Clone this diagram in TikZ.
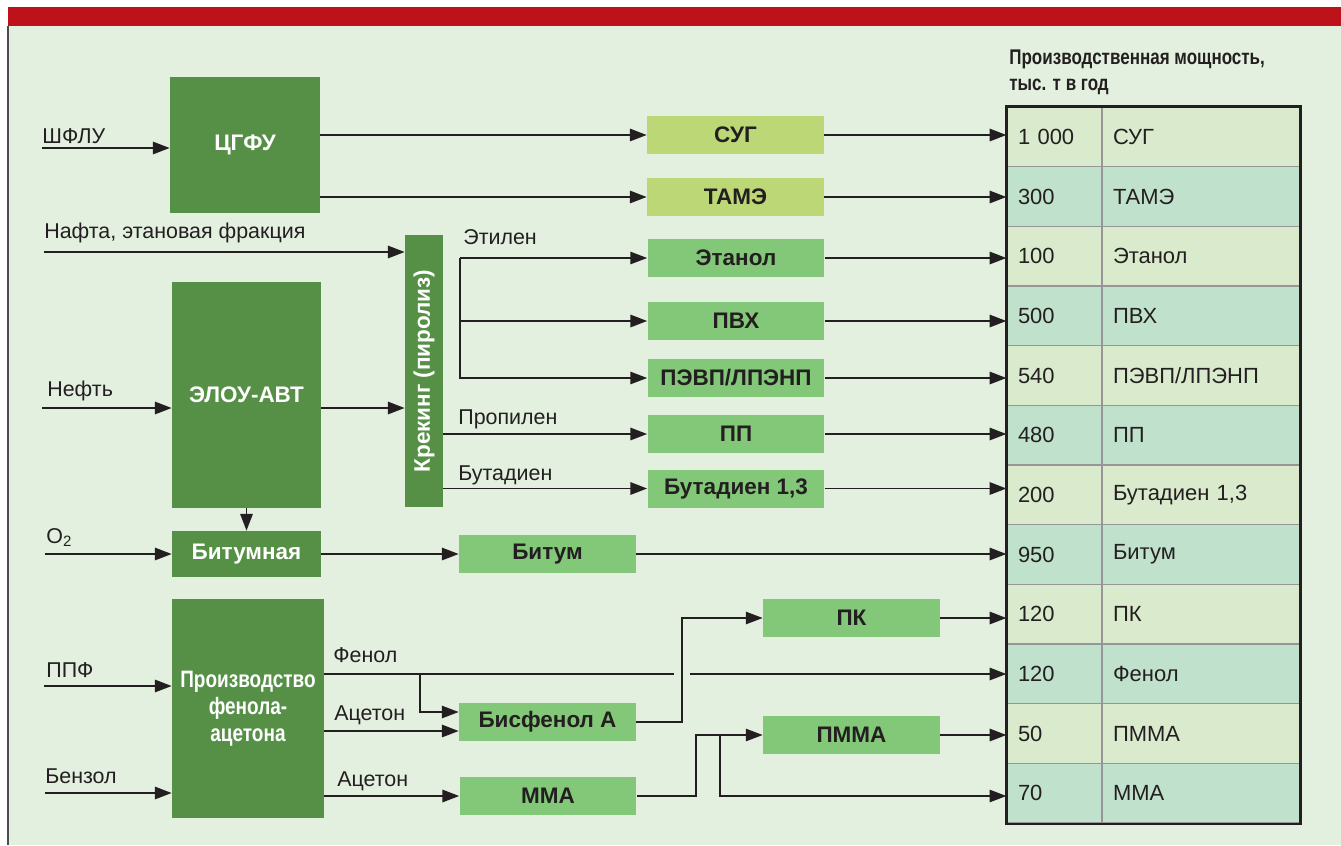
\documentclass[tikz,border=0pt]{standalone}
\usepackage{fontspec}
\setmainfont{Liberation Sans}
\newfontfamily\condbf[FakeStretch=0.8]{Liberation Sans Bold}
\usetikzlibrary{arrows.meta,positioning,calc}
\definecolor{ink}{RGB}{35,31,32}
\definecolor{bgreen}{RGB}{227,239,223}
\definecolor{topred}{RGB}{190,18,26}
\definecolor{darkgreen}{RGB}{86,144,70}
\definecolor{midgreen}{RGB}{131,200,120}
\definecolor{limegreen}{RGB}{188,216,118}
\definecolor{rowlight}{RGB}{218,234,204}
\definecolor{rowmint}{RGB}{192,226,204}
\definecolor{gridgray}{RGB}{150,150,150}

\tikzset{
  plant/.style={fill=darkgreen,text=white,inner sep=0pt,align=center,
    font=\bfseries\fontsize{12.8}{14}\selectfont},
  prod/.style={fill=midgreen,text=ink,inner sep=0pt,
    minimum width=3.54cm,minimum height=0.76cm,
    font=\bfseries\fontsize{12.8}{14}\selectfont},
  gas/.style={prod,fill=limegreen},
  lbl/.style={text=ink,inner sep=0pt,anchor=base west,
    font=\fontsize{12.2}{14}\selectfont},
  arr/.style={-{Triangle[length=9.5pt,width=7pt]},line width=1.1pt,draw=ink},
  tharr/.style={arr,line width=0.8pt},
  cell/.style={draw=gridgray,line width=0.7pt,inner xsep=0.22cm,inner ysep=0pt,
    minimum height=1.193cm,text=ink,align=left,
    font=\fontsize{12.5}{14}\selectfont},
  valcell/.style={cell,text width=1.46cm},
  namecell/.style={cell,text width=3.52cm}
}

\begin{document}
\begin{tikzpicture}[x=0.02cm,y=-0.02cm]
  \useasboundingbox (0,0) rectangle (1341,845);
  \fill[white] (0,0) rectangle (1341,845);
  \fill[bgreen] (8,26) rectangle (1341,845);
  \fill[topred] (8,7) rectangle (1341,26);
  \draw[line width=0.9pt,black!70] (8,26) -- (8,845);

  % process units
  \node[plant,minimum width=3cm,minimum height=2.72cm] (cgfu) at (245,145) {ЦГФУ};
  \node[plant,minimum width=2.98cm,minimum height=4.52cm] (elou) at (246.5,395) {ЭЛОУ-АВТ};
  \node[plant,minimum width=2.98cm,minimum height=0.92cm] (bitumnaya) at (246.5,554) {Битумная};
  \node[plant,minimum width=3.04cm,minimum height=4.38cm,
        font=\condbf\fontsize{13.5}{15.3}\selectfont] (fenacet) at (248,708.5)
        {Производство\\фенола-\\ацетона};
  \node[plant,minimum width=0.76cm,minimum height=5.44cm] (kreking) at (424,371)
        {\rotatebox{90}{Крекинг (пиролиз)}};

  % products
  \node[gas] (syg) at (735.5,135) {СУГ};
  \node[gas] (tame) at (735.5,197) {ТАМЭ};
  \node[prod] (etanol) at (736,258) {Этанол};
  \node[prod] (pvh) at (736,321) {ПВХ};
  \node[prod] (pevp) at (736,378) {ПЭВП/ЛПЭНП};
  \node[prod] (pp) at (736,434) {ПП};
  \node[prod] (butadien) at (736,488.5) {Бутадиен 1,3};
  \node[prod] (bitum) at (547.5,554) {Битум};
  \node[prod] (bisfenol) at (547.5,722) {Бисфенол А};
  \node[prod] (mma) at (548,796) {ММА};
  \node[prod] (pk) at (851.5,618) {ПК};
  \node[prod] (pmma) at (851.5,735) {ПММА};

  % capacity table
  \node[text=ink,inner sep=0pt,anchor=north west,align=left,
        font=\condbf\fontsize{12.1}{14.7}\selectfont] (cap) at (1009,50)
        {Производственная мощность,\\тыс. т в год};
  \foreach \val/\name [count=\i] in {1 000/СУГ,300/ТАМЭ,100/Этанол,500/ПВХ,
      540/{ПЭВП/ЛПЭНП},480/ПП,200/{Бутадиен 1,3},950/Битум,120/ПК,120/Фенол,
      50/ПММА,70/ММА}{
    \ifodd\i \def\rowc{rowlight}\else\def\rowc{rowmint}\fi
    \node[valcell,fill=\rowc] (v\i) at (1054.5,{107+(\i-0.5)*59.67}) {\val};
    \node[namecell,fill=\rowc] (n\i) at (1201,{107+(\i-0.5)*59.67}) {\name};
  }
  \draw[line width=1.3pt,ink] (v1.north west) rectangle (n12.south east);

  % inputs and stream labels
  \node[lbl] (shflu) at (42,143) {ШФЛУ};
  \node[lbl] (nafta) at (44,238) {Нафта, этановая фракция};
  \node[lbl] (neft) at (47,396) {Нефть};
  \node[lbl] (o2) at (46,543) {O\textsubscript{2}};
  \node[lbl] (ppf) at (46,677) {ППФ};
  \node[lbl] (benzol) at (45,783) {Бензол};
  \node[lbl] (etilen) at (463,244) {Этилен};
  \node[lbl] (propilen) at (458,424) {Пропилен};
  \node[lbl] (butadienl) at (458,480) {Бутадиен};
  \node[lbl] (fenol) at (333,662) {Фенол};
  \node[lbl] (aceton1) at (334,720) {Ацетон};
  \node[lbl] (aceton2) at (337,786) {Ацетон};

  \coordinate (shfluin) at (42,148);
  \coordinate (naftain) at (44,252);
  \coordinate (neftin) at (42,408);
  \coordinate (o2in) at (45,554);
  \coordinate (ppfin) at (44,686);
  \coordinate (benzin) at (45,793);
  \coordinate (ethfork) at (460,258);
  \coordinate (fjump) at (682,674);
  \coordinate (fenfork) at (420,674);
  \coordinate (bisin) at ([yshift=0.2cm]bisfenol.west);
  \coordinate (acin) at ([yshift=-0.18cm]bisfenol.west);
  \coordinate (mjoin) at (696,735);
  \coordinate (mfork) at (720,735);
  \coordinate (mmaend) at (mma.east -| v12.west);

  % upper flows
  \draw[arr] (shfluin) -- (shfluin -| cgfu.west);
  \draw[arr] (cgfu.east |- syg.west) -- (syg.west);
  \draw[arr] (cgfu.east |- tame.west) -- (tame.west);
  \draw[arr] (naftain) -- (naftain -| kreking.west);
  \draw[arr] (neftin) -- (neftin -| elou.west);
  \draw[arr] (elou.east |- neftin) -- (neftin -| kreking.west);
  \draw[arr] (elou.south) -- (bitumnaya.north);
  \draw[arr] (o2in) -- (o2in -| bitumnaya.west);
  \draw[arr] (bitumnaya.east) -- (bitum.west);
  \draw[tharr] (ethfork) -- (etanol.west);
  \draw[tharr] (ethfork) |- (pevp.west);
  \draw[arr] (ethfork |- pvh.west) -- (pvh.west);
  \draw[arr] (kreking.east |- pp.west) -- (pp.west);
  \draw[arr] (kreking.east |- butadien.west) -- (butadien.west);

  % into the table
  \foreach \src/\row in {syg/1,tame/2,etanol/3,pvh/4,pevp/5,pp/6,butadien/7,
      bitum/8,pk/9,pmma/11}
    \draw[arr] (\src.east) -- (\src.east -| v\row.west);

  % phenol-acetone branch
  \draw[arr] (ppfin) -- (ppfin -| fenacet.west);
  \draw[arr] (benzin) -- (benzin -| fenacet.west);
  \draw[line width=1.1pt,ink] (fenacet.east |- fjump) -- ([xshift=-0.16cm]fjump);
  \draw[arr] ([xshift=0.16cm]fjump) -- (fjump -| v10.west);
  \draw[tharr] (fenfork) |- (bisin);
  \draw[arr] (fenacet.east |- acin) -- (acin);
  \draw[arr] (fenacet.east |- mma.west) -- (mma.west);
  \draw[tharr] (bisfenol.east) -| (fjump) |- (pk.west);
  \draw[tharr] (mma.east) -| (mjoin) -- (pmma.west);
  \draw[tharr] (mfork) |- (mmaend);
\end{tikzpicture}
\end{document}
